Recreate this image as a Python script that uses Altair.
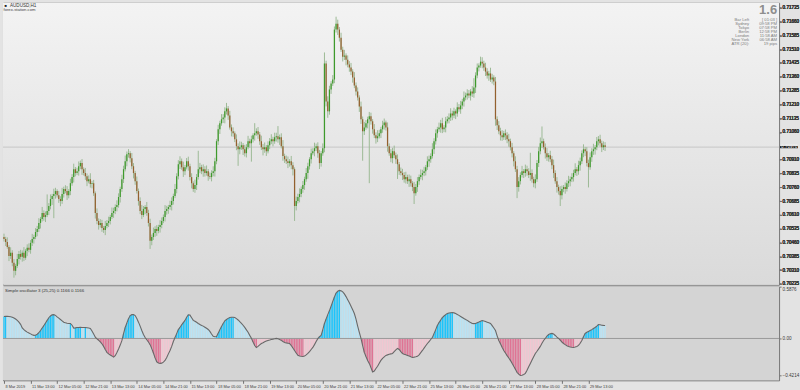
import altair as alt
import pandas as pd

# ---------------- data ----------------
close = [
    0.70479, 0.70463, 0.70436, 0.70387, 0.70404, 0.70350, 0.70306, 0.70333, 0.70371, 0.70398,
    0.70382, 0.70404, 0.70377, 0.70415, 0.70431, 0.70420, 0.70458, 0.70479, 0.70490, 0.70517,
    0.70533, 0.70566, 0.70588, 0.70620, 0.70598, 0.70609, 0.70631, 0.70658, 0.70696, 0.70712,
    0.70723, 0.70739, 0.70717, 0.70696, 0.70685, 0.70723, 0.70750, 0.70739, 0.70717, 0.70739,
    0.70782, 0.70815, 0.70858, 0.70837, 0.70847, 0.70874, 0.70891, 0.70858, 0.70837, 0.70820,
    0.70793, 0.70804, 0.70777, 0.70782, 0.70728, 0.70620, 0.70577, 0.70555, 0.70566, 0.70539,
    0.70528, 0.70550, 0.70566, 0.70577, 0.70598, 0.70620, 0.70631, 0.70653, 0.70663, 0.70707,
    0.70750, 0.70804, 0.70858, 0.70901, 0.70939, 0.70945, 0.70918, 0.70874, 0.70837, 0.70793,
    0.70739, 0.70685, 0.70631, 0.70609, 0.70642, 0.70653, 0.70620, 0.70566, 0.70469, 0.70490,
    0.70512, 0.70533, 0.70523, 0.70544, 0.70555, 0.70577, 0.70598, 0.70631, 0.70642, 0.70653,
    0.70663, 0.70685, 0.70712, 0.70750, 0.70820, 0.70885, 0.70901, 0.70869, 0.70847, 0.70869,
    0.70901, 0.70874, 0.70815, 0.70782, 0.70750, 0.70772, 0.70815, 0.70858, 0.70869, 0.70847,
    0.70858, 0.70837, 0.70847, 0.70820, 0.70815, 0.70837, 0.70847, 0.70901, 0.71010, 0.71075,
    0.71107, 0.71129, 0.71139, 0.71172, 0.71188, 0.71150, 0.71085, 0.71064, 0.71053, 0.71020,
    0.70983, 0.70966, 0.70977, 0.70988, 0.70966, 0.70945, 0.70977, 0.71010, 0.70999, 0.71020,
    0.71042, 0.71053, 0.71064, 0.71047, 0.71010, 0.70977, 0.70966, 0.70977, 0.70956, 0.70988,
    0.71010, 0.71020, 0.71010, 0.71031, 0.71037, 0.71020, 0.71031, 0.70983, 0.70929, 0.70912,
    0.70901, 0.70891, 0.70901, 0.70880, 0.70858, 0.70658, 0.70685, 0.70707, 0.70723, 0.70750,
    0.70772, 0.70804, 0.70837, 0.70874, 0.70912, 0.70945, 0.70956, 0.70972, 0.70983, 0.70945,
    0.70891, 0.70945, 0.70972, 0.71432, 0.71226, 0.71172, 0.71291, 0.71323, 0.71345, 0.71616,
    0.71648, 0.71616, 0.71572, 0.71507, 0.71469, 0.71475, 0.71453, 0.71426, 0.71410, 0.71388,
    0.71356, 0.71312, 0.71280, 0.71248, 0.71199, 0.71129, 0.71064, 0.71085, 0.71107, 0.71129,
    0.71145, 0.71118, 0.71075, 0.71042, 0.71026, 0.71037, 0.71053, 0.71075, 0.71096, 0.71112,
    0.71085, 0.70983, 0.70945, 0.70918, 0.70956, 0.70934, 0.70912, 0.70885, 0.70847, 0.70837,
    0.70826, 0.70804, 0.70815, 0.70793, 0.70804, 0.70782, 0.70761, 0.70728, 0.70761, 0.70793,
    0.70815, 0.70826, 0.70837, 0.70847, 0.70869, 0.70901, 0.70912, 0.70929, 0.70966, 0.71010,
    0.71053, 0.71075, 0.71085, 0.71107, 0.71075, 0.71085, 0.71118, 0.71129, 0.71139, 0.71161,
    0.71150, 0.71172, 0.71161, 0.71194, 0.71183, 0.71204, 0.71226, 0.71248, 0.71258, 0.71269,
    0.71258, 0.71280, 0.71269, 0.71302, 0.71367, 0.71410, 0.71421, 0.71442, 0.71432, 0.71410,
    0.71388, 0.71367, 0.71378, 0.71345, 0.71356, 0.71334, 0.71129, 0.71096, 0.71064, 0.71042,
    0.71031, 0.71053, 0.71042, 0.71020, 0.71010, 0.70977, 0.70945, 0.70901, 0.70858, 0.70761,
    0.70793, 0.70826, 0.70847, 0.70837, 0.70858, 0.70847, 0.70826, 0.70837, 0.70804, 0.70782,
    0.70804, 0.70891, 0.70956, 0.70999, 0.71010, 0.70977, 0.70945, 0.70923, 0.70934, 0.70912,
    0.70880, 0.70837, 0.70793, 0.70761, 0.70739, 0.70717, 0.70750, 0.70761, 0.70750, 0.70782,
    0.70793, 0.70804, 0.70815, 0.70837, 0.70858, 0.70847, 0.70880, 0.70901, 0.70945, 0.70966,
    0.70956, 0.70891, 0.70869, 0.70923, 0.70956, 0.70966, 0.70977, 0.71010, 0.71020, 0.70999,
    0.70977, 0.70988, 0.70978,
]
open_first = 0.70490

# wick lengths in points (0.00001)
wick_up = [
    18, 12, 25, 9, 30, 14, 20, 11, 27, 16,
    22, 13, 31, 10, 19, 24, 15, 28, 12, 21,
    17, 26, 11, 33, 14, 20, 90, 16, 25, 12,
    29, 18, 10, 23, 15, 34, 13, 21, 27, 11,
    24, 16, 30, 12, 19, 26, 14, 22, 10, 28,
    15, 20, 32, 13, 18, 9, 25, 14, 21, 17,
    11, 27, 16, 23, 12, 30, 18, 14, 26, 20,
    13, 24, 19, 31, 15, 22, 11, 28, 17, 12,
    25, 14, 20, 33, 16, 10, 27, 18, 23, 13,
    29, 15, 21, 12, 26, 19, 14, 32, 17, 11,
    24, 20, 13, 28, 16, 22, 27, 15, 30, 12,
    18, 25, 14, 21, 10, 29, 17, 100, 23, 13,
    26, 16, 31, 12, 20, 15, 27, 19, 11, 24,
    14, 28, 18, 22, 30, 13, 25, 16, 21, 10,
    27, 15, 32, 19, 12, 24, 17, 29, 14, 20,
    11, 55, 16, 23, 13, 30, 18, 26, 12, 21,
    17, 28, 14, 25, 19, 55, 15, 22, 33, 13,
    20, 26, 12, 29, 16, 10, 24, 18, 31, 14,
    22, 13, 27, 19, 11, 25, 16, 30, 14, 21,
    18, 12, 26, 60, 15, 28, 20, 13, 24, 17,
    38, 22, 14, 27, 16, 31, 12, 23, 19, 25,
    13, 29, 17, 22, 11, 26, 15, 30, 18, 14,
    24, 20, 12, 28, 16, 33, 19, 13, 25, 21,
    10, 27, 15, 22, 18, 30, 14, 26, 12, 20,
    23, 16, 29, 13, 25, 19, 11, 28, 17, 22,
    14, 31, 18, 24, 12, 27, 20, 15, 33, 16,
    21, 13, 26, 19, 30, 12, 24, 17, 22, 28,
    15, 20, 11, 27, 18, 25, 14, 32, 16, 23,
    19, 13, 29, 50, 17, 22, 12, 27, 24, 15,
    26, 18, 14, 31, 20, 12, 25, 16, 23, 19,
    28, 13, 21, 17, 30, 14, 24, 11, 27, 18,
    22, 15, 29, 12, 25, 19, 16, 110, 20, 13,
    26, 17, 23, 31, 80, 14, 21, 28, 12, 24,
    18, 30, 15, 22, 13, 27, 19, 11, 25, 16,
    29, 14, 21, 18, 32, 12, 24, 20, 15, 27,
    13, 22, 19, 26, 16, 30, 12, 23, 18, 25,
    14, 21, 17,
]
wick_dn = [
    14, 22, 10, 28, 16, 19, 37, 24, 12, 30,
    15, 26, 18, 11, 29, 13, 21, 17, 25, 12,
    23, 16, 30, 14, 20, 27, 11, 22, 18, 32,
    120, 25, 13, 21, 28, 15, 19, 12, 26, 17,
    22, 14, 29, 18, 11, 24, 16, 31, 13, 20,
    27, 12, 19, 23, 15, 30, 18, 25, 14, 21,
    16, 28, 13, 22, 19, 11, 26, 17, 24, 14,
    30, 15, 21, 12, 27, 18, 23, 16, 29, 20,
    13, 25, 17, 22, 11, 28, 15, 19, 44, 24,
    16, 21, 27, 13, 30, 18, 12, 24, 20, 26,
    15, 29, 19, 11, 23, 17, 26, 14, 31, 21,
    12, 24, 18, 28, 15, 20, 27, 13, 22, 16,
    30, 19, 14, 25, 11, 23, 18, 29, 16, 21,
    26, 13, 20, 32, 17, 24, 12, 28, 19, 15,
    22, 90, 27, 14, 31, 18, 23, 11, 25, 100,
    17, 29, 13, 24, 20, 15, 33, 19, 26, 12,
    21, 16, 28, 14, 23, 18, 30, 12, 25, 20,
    15, 27, 19, 22, 34, 81, 24, 13, 29, 17,
    20, 26, 14, 31, 18, 23, 11, 28, 16, 25,
    32, 19, 14, 22, 27, 35, 18, 24, 13, 20,
    16, 29, 21, 12, 26, 18, 31, 15, 23, 19,
    28, 14, 22, 17, 30, 25, 160, 20, 13, 27,
    347, 18, 24, 15, 29, 21, 12, 26, 19, 23,
    17, 30, 14, 22, 28, 16, 25, 80, 20, 13,
    27, 19, 24, 15, 31, 18, 22, 59, 14, 26,
    20, 12, 28, 17, 23, 15, 30, 19, 13, 25,
    18, 24, 14, 29, 21, 16, 27, 12, 22, 19,
    26, 15, 31, 18, 13, 24, 20, 28, 16, 22,
    14, 27, 19, 23, 30, 15, 21, 12, 26, 18,
    24, 17, 29, 13, 22, 20, 35, 25, 16, 28,
    19, 14, 26, 21, 30, 17, 23, 28, 15, 60,
    25, 18, 13, 27, 20, 24, 16, 31, 19, 22,
    28, 15, 21, 17, 26, 12, 29, 20, 24, 16,
    22, 27, 14, 30, 19, 59, 23, 17, 25, 13,
    21, 28, 16, 24, 12, 26, 19, 30, 15, 22,
    27, 18, 110, 14, 25, 20, 29, 16, 23, 19,
    26, 15, 21,
]

osc = [
    0.250, 0.252, 0.251, 0.249, 0.246, 0.241, 0.232, 0.220, 0.205, 0.185,
    0.160, 0.120, 0.100, 0.085, 0.072, 0.062, 0.052, 0.042, 0.035, 0.036,
    0.048, 0.065, 0.090, 0.118, 0.145, 0.175, 0.205, 0.235, 0.255, 0.268,
    0.270, 0.262, 0.245, 0.230, 0.215, 0.200, 0.185, 0.178, 0.172, 0.170,
    0.170, 0.150, 0.118, 0.120, 0.124, 0.125, 0.126, 0.125, 0.124, 0.125,
    0.122, 0.118, 0.113, 0.085, 0.050, 0.015, -0.005, -0.020, -0.040, -0.060,
    -0.090, -0.125, -0.158, -0.175, -0.188, -0.198, -0.212, -0.195, -0.160, -0.120,
    -0.075, -0.025, 0.055, 0.124, 0.175, 0.225, 0.260, 0.270, 0.272, 0.260,
    0.226, 0.185, 0.140, 0.090, 0.045, 0.011, -0.015, -0.040, -0.070, -0.115,
    -0.165, -0.220, -0.265, -0.278, -0.283, -0.280, -0.268, -0.249, -0.215, -0.175,
    -0.136, -0.090, -0.035, 0.010, 0.055, 0.100, 0.125, 0.155, 0.180, 0.205,
    0.240, 0.268, 0.265, 0.235, 0.205, 0.195, 0.183, 0.170, 0.158, 0.148,
    0.140, 0.128, 0.115, 0.102, 0.080, 0.050, 0.025, 0.020, 0.022, 0.060,
    0.100, 0.135, 0.170, 0.200, 0.215, 0.228, 0.237, 0.240, 0.240, 0.237,
    0.225, 0.210, 0.190, 0.172, 0.150, 0.125, 0.098, 0.070, 0.035, 0.002,
    -0.040, -0.080, -0.102, -0.090, -0.072, -0.057, -0.048, -0.038, -0.030, -0.023,
    -0.018, -0.012, -0.008, -0.004, 0.001, -0.004, -0.011, -0.022, -0.035, -0.045,
    -0.050, -0.054, -0.058, -0.080, -0.108, -0.136, -0.165, -0.190, -0.198, -0.202,
    -0.204, -0.198, -0.186, -0.170, -0.150, -0.125, -0.102, -0.070, -0.035, -0.002,
    0.020, 0.035, 0.100, 0.170, 0.220, 0.270, 0.316, 0.365, 0.420, 0.470,
    0.515, 0.535, 0.545, 0.540, 0.528, 0.505, 0.475, 0.440, 0.405, 0.365,
    0.325, 0.283, 0.220, 0.140, 0.070, 0.000, -0.080, -0.158, -0.205, -0.250,
    -0.283, -0.330, -0.380, -0.370, -0.340, -0.315, -0.280, -0.249, -0.225, -0.208,
    -0.192, -0.186, -0.180, -0.175, -0.170, -0.150, -0.130, -0.113, -0.125, -0.150,
    -0.170, -0.178, -0.185, -0.192, -0.200, -0.208, -0.215, -0.212, -0.208, -0.203,
    -0.185, -0.160, -0.136, -0.110, -0.083, -0.057, -0.035, -0.012, 0.011, 0.055,
    0.100, 0.147, 0.180, 0.210, 0.237, 0.255, 0.270, 0.283, 0.288, 0.292,
    0.294, 0.290, 0.282, 0.272, 0.262, 0.250, 0.238, 0.226, 0.215, 0.205,
    0.192, 0.180, 0.170, 0.168, 0.170, 0.178, 0.186, 0.195, 0.203, 0.198,
    0.192, 0.185, 0.178, 0.170, 0.145, 0.118, 0.090, 0.030, -0.023, -0.060,
    -0.100, -0.136, -0.165, -0.195, -0.222, -0.249, -0.280, -0.315, -0.350, -0.384,
    -0.405, -0.420, -0.418, -0.408, -0.396, -0.360, -0.320, -0.283, -0.245, -0.208,
    -0.170, -0.145, -0.118, -0.090, -0.055, -0.023, 0.000, 0.028, 0.045, 0.053,
    0.057, 0.050, 0.034, 0.015, 0.000, -0.020, -0.040, -0.057, -0.070, -0.082,
    -0.090, -0.096, -0.100, -0.102, -0.097, -0.090, -0.079, -0.055, -0.023, 0.020,
    0.057, 0.070, 0.080, 0.090, 0.100, 0.112, 0.124, 0.140, 0.158, 0.155,
    0.150, 0.148, 0.147,
]

time_labels = [
    "8 Mar 2019", "11 Mar 13:00", "12 Mar 05:00", "12 Mar 21:00", "13 Mar 13:00",
    "14 Mar 05:00", "14 Mar 21:00", "15 Mar 13:00", "18 Mar 05:00", "18 Mar 21:00",
    "19 Mar 13:00", "20 Mar 05:00", "20 Mar 21:00", "21 Mar 13:00", "22 Mar 05:00",
    "22 Mar 21:00", "25 Mar 13:00", "26 Mar 05:00", "26 Mar 21:00", "27 Mar 13:00",
    "28 Mar 05:00", "28 Mar 21:00", "29 Mar 13:00",
]
bars_per_label = 16

price_ticks = [
    0.71735, 0.71660, 0.71585, 0.71510, 0.71435, 0.71360, 0.71285, 0.71210,
    0.71135, 0.71060, 0.70910, 0.70835, 0.70760, 0.70685, 0.70610,
    0.70535, 0.70460, 0.70385, 0.70310, 0.70235,
]
osc_ticks = [0.5876, 0.0, -0.4214]

info_labels = ["Bar Left", "Sydney", "Tokyo", "Berlin", "London", "New York", "ATR (20):"]
info_values = ["[ 01:03 ]", "09:58 PM", "07:58 PM", "12:58 PM", "11:58 AM", "06:58 AM", "19 pips"]
spread_text = "1.6"
symbol_text = "AUDUSD,H1"
site_text = "forex-station.com"
osc_title = "Simple oscillator 3 (25,25) 0.1166 0.1166"

# ---------------- table ----------------
n = min(len(close), len(wick_up), len(wick_dn), len(osc))
opens = [open_first] + close[: n - 1]
rows = []
for k in range(n):
    o, c = opens[k], close[k]
    v = osc[k]
    prev = osc[k - 1] if k > 0 else osc[0]
    if v >= 0:
        cls = "pos_up" if v >= prev else "pos_dn"
    else:
        cls = "neg_dn" if v <= prev else "neg_up"
    rows.append(dict(i=k, open=o, close=c,
                     high=max(o, c) + wick_up[k] * 1e-5,
                     low=min(o, c) - wick_dn[k] * 1e-5,
                     bull=bool(c >= o), osc=v, zero=0.0, cls=cls))
df = pd.DataFrame(rows)

W = 779
H1 = 283
H2 = 94
FONT = "Liberation Sans"
X_DOM = [-0.6, -0.6 + W / 1.6667]
PRICE_DOM = [0.70231, 0.71762]
OSC_DOM = [-0.4746, 0.5876]

xscale = alt.Scale(domain=X_DOM, nice=False, zero=False)
yscale = alt.Scale(domain=PRICE_DOM, nice=False, zero=False)
oscale = alt.Scale(domain=OSC_DOM, nice=False, zero=False)

price_axis = alt.Axis(orient="right", values=price_ticks, format=".5f", title=None,
                      labelFontSize=4.6, tickSize=2, labelPadding=1, grid=False,
                      domain=False, labelOverlap=False, labelFlush=False,
                      labelColor="#3a3a3a", tickColor="#707070")
x_top = alt.X("i:Q", scale=xscale, axis=None)

lbl_arr = "[" + ",".join("'" + t + "'" for t in time_labels) + "]"
tick_idx = [bars_per_label * k for k in range(len(time_labels))]
x_axis = alt.Axis(values=tick_idx, labelExpr=lbl_arr + "[round(datum.value/" + str(bars_per_label) + ")]",
                  labelAlign="left", labelBaseline="top", labelPadding=1, tickSize=3,
                  labelFontSize=3.9, domain=False, grid=False, title=None, labelOffset=1,
                  labelOverlap=False, labelFlush=False, labelColor="#3a3a3a", tickColor="#707070")
x_bot = alt.X("i:Q", scale=xscale, axis=x_axis)
osc_axis = alt.Axis(orient="right", values=osc_ticks, title=None,
                    labelExpr="datum.value == 0 ? '0.00' : format(datum.value, '.4f')",
                    labelBaseline=alt.ExprRef(expr="datum.value > 0.5 ? 'top' : 'middle'"),
                    labelFontSize=4.6, tickSize=2, labelPadding=1, grid=False, domain=False,
                    labelOverlap=False, labelFlush=False, labelColor="#3a3a3a", tickColor="#707070")

one = pd.DataFrame({"a": [0]})

# ---------------- top panel ----------------
bg_top = alt.Chart(one).mark_rect(
    color=alt.Gradient(gradient="linear", x1=0, x2=0, y1=0, y2=1,
                       stops=[alt.GradientStop(color="#f3f3f3", offset=0),
                              alt.GradientStop(color="#dadada", offset=1)])
).encode(x=alt.value(0), x2=alt.value(W), y=alt.value(0), y2=alt.value(H1))

last = close[n - 1]
last_df = pd.DataFrame({"p": [last], "p_hi": [last + 0.00006], "p_lo": [last - 0.00006],
                        "lbl": [f"{last:.5f}"]})

price_line = alt.Chart(last_df).mark_rule(color="#c6c6c6", strokeWidth=1).encode(
    y=alt.Y("p:Q", scale=yscale, axis=price_axis))

wicks = alt.Chart(df).mark_rule(color="#9dba96", strokeWidth=1).encode(
    x=x_top, y=alt.Y("low:Q", scale=yscale, axis=price_axis), y2="high:Q")

bodies = alt.Chart(df).mark_rule(strokeWidth=1.25).encode(
    x=x_top, y=alt.Y("open:Q", scale=yscale, axis=price_axis), y2="close:Q",
    color=alt.condition("datum.bull", alt.value("#3e9a2c"), alt.value("#93602e")))

price_box = alt.Chart(last_df).mark_rect(color="#141414").encode(
    x=alt.value(W + 1), x2=alt.value(W + 19),
    y=alt.Y("p_hi:Q", scale=yscale, axis=price_axis), y2="p_lo:Q")
price_box_txt = alt.Chart(last_df).mark_text(
    align="left", baseline="middle", fontSize=4.6, font=FONT, color="#f0f0f0").encode(
    x=alt.value(W + 2), y=alt.Y("p:Q", scale=yscale, axis=price_axis), text="lbl:N")

sym_df = pd.DataFrame({"t": [symbol_text]})
site_df = pd.DataFrame({"t": [site_text]})
icon_df = pd.DataFrame({"t": ["\u25a0"]})
sym_txt = alt.Chart(sym_df).mark_text(align="left", baseline="middle", fontSize=4.6,
                                      font=FONT, color="#333333").encode(
    x=alt.value(7), y=alt.value(3.5), text="t:N")
icon_txt = alt.Chart(icon_df).mark_text(align="left", baseline="middle", fontSize=4,
                                        font=FONT, color="#222222").encode(
    x=alt.value(1.5), y=alt.value(3.5), text="t:N")
site_txt = alt.Chart(site_df).mark_text(align="left", baseline="middle", fontSize=4.2,
                                        font=FONT, color="#444444").encode(
    x=alt.value(0.5), y=alt.value(7.8), text="t:N")

spread_df = pd.DataFrame({"t": [spread_text]})
spread_txt = alt.Chart(spread_df).mark_text(align="right", baseline="alphabetic", fontSize=13,
                                            fontWeight="bold", font=FONT, color="#8e8e8e").encode(
    x=alt.value(777), y=alt.value(11.5), text="t:N")

row_scale = alt.Scale(domain=list(range(len(info_labels))),
                      range=[15, 15 + 4.7 * (len(info_labels) - 1)])
info_df = pd.DataFrame({"lab": info_labels, "val": info_values, "row": list(range(len(info_labels)))})
info_lab = alt.Chart(info_df).mark_text(align="right", baseline="middle", fontSize=4.2,
                                        font=FONT, color="#7c7c7c").encode(
    x=alt.value(749), y=alt.Y("row:O", scale=row_scale, axis=None), text="lab:N")
info_val = alt.Chart(info_df).mark_text(align="right", baseline="middle", fontSize=4.2,
                                        font=FONT, color="#7c7c7c").encode(
    x=alt.value(777), y=alt.Y("row:O", scale=row_scale, axis=None), text="val:N")

top = alt.layer(bg_top, price_line, wicks, bodies, price_box, price_box_txt,
                icon_txt, sym_txt, site_txt, spread_txt, info_lab, info_val
                ).resolve_scale(y="independent").properties(width=W, height=H1)

# ---------------- oscillator panel ----------------
bg_bot = alt.Chart(one).mark_rect(color="#d4d4d4").encode(
    x=alt.value(0), x2=alt.value(W), y=alt.value(0), y2=alt.value(H2))

bars = alt.Chart(df).mark_rule(strokeWidth=1.3).encode(
    x=x_bot, y=alt.Y("osc:Q", scale=oscale, axis=osc_axis), y2="zero:Q",
    color=alt.Color("cls:N", legend=None,
                    scale=alt.Scale(domain=["pos_up", "pos_dn", "neg_dn", "neg_up"],
                                    range=["#1cc4fb", "#b9e3f4", "#df7394", "#f2c6d1"])))
zero_df = pd.DataFrame({"z": [0.0]})
zero_line = alt.Chart(zero_df).mark_rule(color="#9a9a9a", strokeWidth=1).encode(
    y=alt.Y("z:Q", scale=oscale, axis=osc_axis))
outline = alt.Chart(df).mark_line(color="#686868", strokeWidth=1.1).encode(
    x=x_bot, y=alt.Y("osc:Q", scale=oscale, axis=osc_axis))
ot_df = pd.DataFrame({"t": [osc_title]})
osc_txt = alt.Chart(ot_df).mark_text(align="left", baseline="middle", fontSize=4.4,
                                     font=FONT, color="#333333").encode(
    x=alt.value(2), y=alt.value(4), text="t:N")

bottom = alt.layer(bg_bot, bars, zero_line, outline, osc_txt).properties(width=W, height=H2)

chart = alt.vconcat(top, bottom, spacing=2, bounds="flush").properties(
    padding={"left": 1, "top": 1, "right": 0, "bottom": 0},
    background="#e3e3e3",
).configure_view(stroke="#6e6e6e", strokeWidth=1).configure_axis(labelFont=FONT)

chart.save("out.html", embed_options={"renderer": "svg", "actions": False})
